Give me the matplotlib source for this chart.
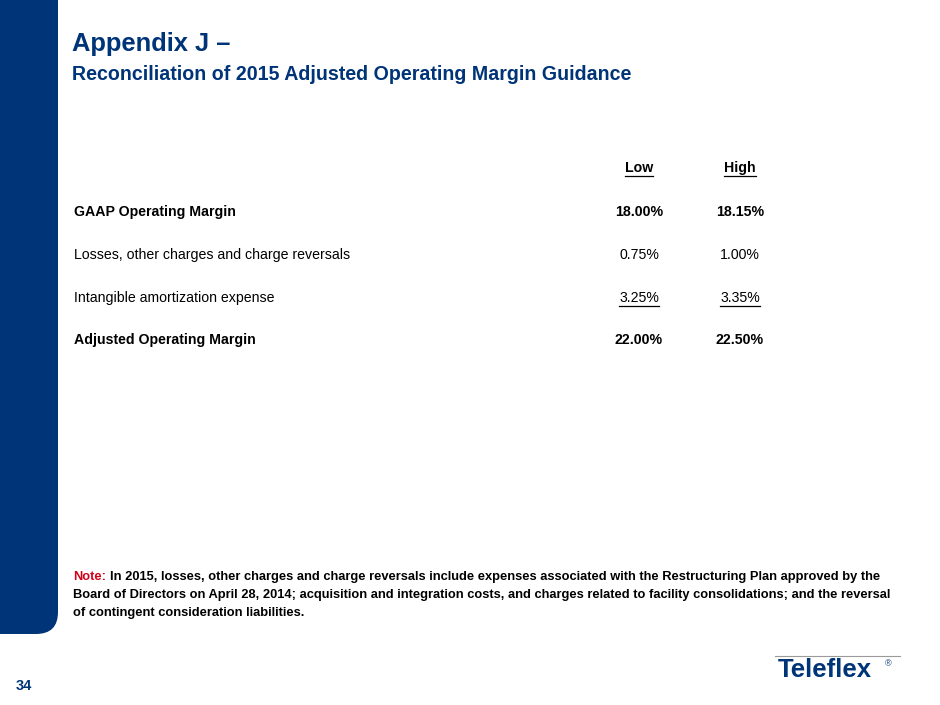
import matplotlib
matplotlib.use("Agg")
import matplotlib.pyplot as plt
from matplotlib.patches import FancyBboxPatch
from matplotlib import font_manager

# Table data
col_headers = ["Low", "High"]
row_labels = ["GAAP Operating Margin",
              "Losses, other charges and charge reversals",
              "Intangible amortization expense",
              "Adjusted Operating Margin"]
low_vals = ["18.00%", "0.75%", "3.25%", "22.00%"]
high_vals = ["18.15%", "1.00%", "3.35%", "22.50%"]
row_bold = [True, False, False, True]
row_underline = [False, False, True, False]

navy = "#003478"
red = "#D0021B"

names = {f.name for f in font_manager.fontManager.ttflist}
narrow = "Liberation Sans Narrow" if "Liberation Sans Narrow" in names else "Liberation Sans"

fig = plt.figure(figsize=(9.4, 7.05), dpi=100)
ax = fig.add_axes([0, 0, 1, 1])
ax.set_xlim(0, 940)
ax.set_ylim(705, 0)
ax.axis("off")

# left blue band with rounded bottom corner
band = FancyBboxPatch((-40, -40), 98, 674, boxstyle="round,pad=0,rounding_size=22",
                      fc=navy, ec="none")
ax.add_patch(band)

# title
ax.text(72, 44, "Appendix J \u2013", fontsize=18.4, fontweight="bold", color=navy,
        family="Liberation Sans", va="center", ha="left")
ax.text(72, 74, "Reconciliation of 2015 Adjusted Operating Margin Guidance", fontsize=14.1,
        fontweight="bold", color=navy, family="Liberation Sans", va="center", ha="left")

fig.canvas.draw()
renderer = fig.canvas.get_renderer()


def underline(t, y):
    bb = t.get_window_extent(renderer)
    x0, _ = ax.transData.inverted().transform((bb.x0, bb.y0))
    x1, _ = ax.transData.inverted().transform((bb.x1, bb.y0))
    ax.plot([x0, x1], [y, y], color="black", lw=0.9)


low_x = 639
high_x = 740
fs = 10.2

# header
for name, cx in zip(col_headers, [low_x, high_x]):
    t = ax.text(cx, 168, name, fontsize=fs, fontweight="bold", family=narrow,
                ha="center", va="center")
    underline(t, 176)

row_y = [212, 255, 298, 340]
for i, y in enumerate(row_y):
    w = "bold" if row_bold[i] else "normal"
    ax.text(74, y, row_labels[i], fontsize=fs, fontweight=w, family=narrow,
            ha="left", va="center")
    t1 = ax.text(low_x, y, low_vals[i], fontsize=fs, fontweight=w, family=narrow,
                 ha="center", va="center")
    t2 = ax.text(high_x, y, high_vals[i], fontsize=fs, fontweight=w, family=narrow,
                 ha="center", va="center")
    if row_underline[i]:
        underline(t1, y + 8)
        underline(t2, y + 8)

# note
note_lines = ["In 2015, losses, other charges and charge reversals include expenses associated with the Restructuring Plan approved by the",
              "Board of Directors on April 28, 2014; acquisition and integration costs, and charges related to facility consolidations; and the reversal",
              "of contingent consideration liabilities."]
nt = ax.text(73, 577, "Note:", fontsize=9.3, fontweight="bold", color=red,
             family="Liberation Sans", ha="left", va="center")
bb = nt.get_window_extent(renderer)
nx = ax.transData.inverted().transform((bb.x1, bb.y0))[0] + 4
ax.text(nx, 577, note_lines[0], fontsize=9.3, fontweight="bold", color="black",
        family="Liberation Sans", ha="left", va="center")
ax.text(73, 595, note_lines[1], fontsize=9.3, fontweight="bold", color="black",
        family="Liberation Sans", ha="left", va="center")
ax.text(73, 613, note_lines[2], fontsize=9.3, fontweight="bold", color="black",
        family="Liberation Sans", ha="left", va="center")

# page number
ax.text(16, 686, "34", fontsize=10.5, fontweight="bold", color=navy,
        family="Liberation Sans", ha="left", va="center")

# logo
ax.plot([775, 900], [656, 656], color="#9a9a9a", lw=0.8)
ax.text(778, 670, "Teleflex", fontsize=18.5, fontweight="heavy", color=navy,
        family="Liberation Sans", ha="left", va="center")
ax.text(885, 664, "\u00ae", fontsize=6.5, color=navy, family="Liberation Sans",
        ha="left", va="center")

fig.savefig("out.png", dpi=100)
